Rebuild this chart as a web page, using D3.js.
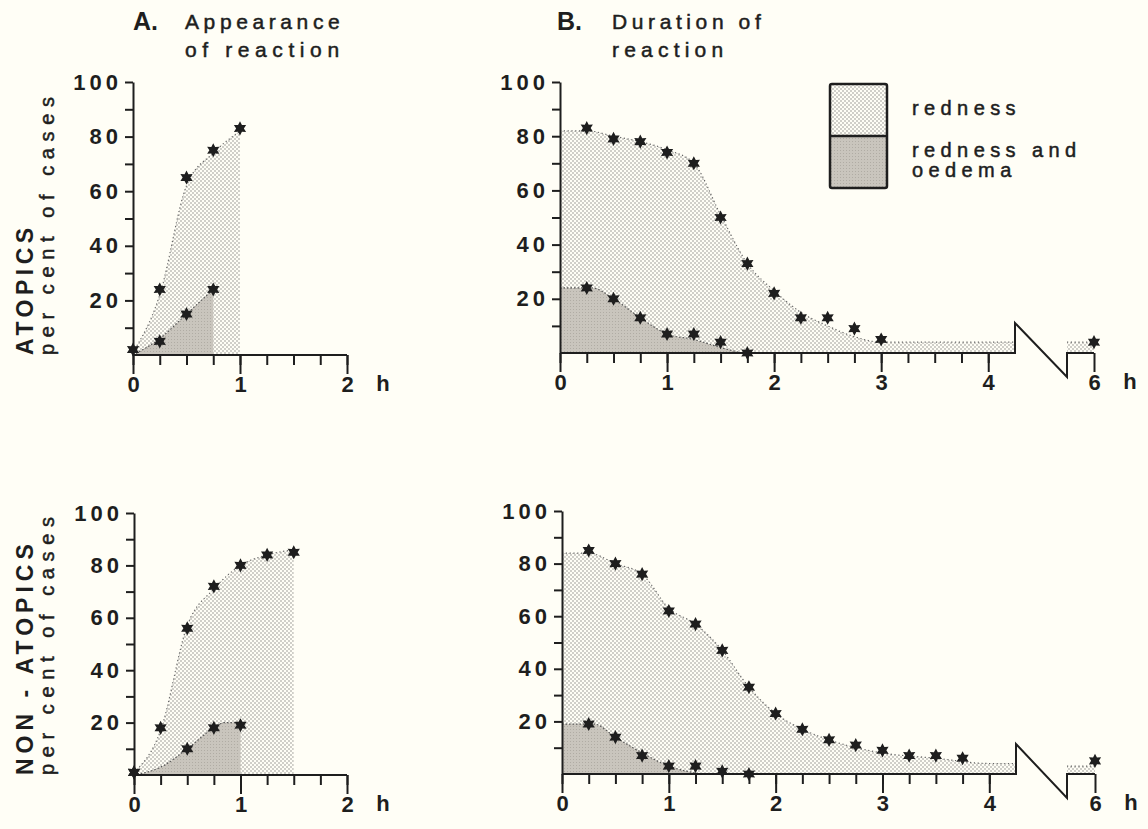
<!DOCTYPE html>
<html>
<head>
<meta charset="utf-8">
<script src="https://cdn.jsdelivr.net/npm/d3@7"></script>
<style>
  body { margin: 0; background: #fffef6; }
  svg { display: block; font-family: "Liberation Sans", Arial, sans-serif; }
</style>
</head>
<body>
<svg id="chart" width="1148" height="829"></svg>
<script>
// ---- values (per cent of cases, time in hours) ----

// A. appearance, atopics
const appAtopTime = [0, 0.25, 0.5, 0.75, 1];
const appAtopRedness = [2, 24, 65, 75, 83];
const appAtopRednessFit = [1, 22, 62, 74, 82];
const appAtopOedemaTime = [0.25, 0.5, 0.75];
const appAtopOedema = [5, 15, 24];
const appAtopOedemaFitTime = [0, 0.25, 0.5, 0.75];
const appAtopOedemaFit = [0, 6, 15, 24];

// A. appearance, non-atopics
const appNonTime = [0, 0.25, 0.5, 0.75, 1, 1.25, 1.5];
const appNonRedness = [1, 18, 56, 72, 80, 84, 85];
const appNonRednessFit = [1, 17, 57, 71, 80, 84, 86];
const appNonOedemaTime = [0, 0.5, 0.75, 1];
const appNonOedema = [1, 10, 18, 19];
const appNonOedemaFitTime = [0, 0.25, 0.5, 0.75, 0.85, 1];
const appNonOedemaFit = [0, 3, 10, 18, 20, 20];

// B. duration, atopics
const durAtopTime = [0.25, 0.5, 0.75, 1, 1.25, 1.5, 1.75, 2, 2.25, 2.5, 2.75, 3, 6];
const durAtopRedness = [83, 79, 78, 74, 70, 50, 33, 22, 13, 13, 9, 5, 4];
const durAtopRednessFitTime = [0, 0.25, 0.5, 0.75, 1, 1.25, 1.5, 1.75, 2, 2.25, 2.5, 2.75, 3, 3.5, 4.25];
const durAtopRednessFit = [82, 82, 80, 78, 75, 70, 51, 33, 23, 15, 10, 6, 4, 4, 4];
const durAtopTailFit = [4, 4];
const durAtopOedemaTime = [0.25, 0.5, 0.75, 1, 1.25, 1.5, 1.75];
const durAtopOedema = [24, 20, 13, 7, 7, 4, 0];
const durAtopOedemaFitTime = [0, 0.3, 0.5, 0.75, 1, 1.25, 1.5, 1.7];
const durAtopOedemaFit = [24, 24, 20, 13, 7, 5, 2, 0];

// B. duration, non-atopics
const durNonTime = [0.25, 0.5, 0.75, 1, 1.25, 1.5, 1.75, 2, 2.25, 2.5, 2.75, 3, 3.25, 3.5, 3.75, 6];
const durNonRedness = [85, 80, 76, 62, 57, 47, 33, 23, 17, 13, 11, 9, 7, 7, 6, 5];
const durNonRednessFitTime = [0, 0.25, 0.5, 0.75, 1, 1.25, 1.5, 1.75, 2, 2.25, 2.5, 2.75, 3, 3.5, 4, 4.25];
const durNonRednessFit = [84, 84, 80, 76, 63, 57, 47, 33, 23, 17, 13, 10, 8, 6, 4, 4];
const durNonTailFit = [3, 3];
const durNonOedemaTime = [0.25, 0.5, 0.75, 1, 1.25, 1.5, 1.75];
const durNonOedema = [19, 14, 7, 3, 3, 1, 0];
const durNonOedemaFitTime = [0, 0.3, 0.5, 0.75, 1, 1.3];
const durNonOedemaFit = [19, 19, 14, 8, 3, 0];

const tailTime = [5.75, 6];
const yTicks = [10, 20, 30, 40, 50, 60, 70, 80, 90, 100];
const appTickLabels = [0, 1, 2];
const durTickLabels = [0, 1, 2, 3, 4, 6];
const legendLabels = [["redness"], ["redness and", "oedema"]];

// ---- drawing ----
const svg = d3.select("#chart");
const ink = "#1e1e1e";

const defs = svg.append("defs");
const dots = defs.append("pattern").attr("id", "dots")
    .attr("width", 4).attr("height", 4).attr("patternUnits", "userSpaceOnUse");
dots.append("rect").attr("width", 4).attr("height", 4).attr("fill", "#fffef6");
dots.append("circle").attr("cx", 1).attr("cy", 1).attr("r", 0.75).attr("fill", "#8a8a86");
dots.append("circle").attr("cx", 3).attr("cy", 3).attr("r", 0.75).attr("fill", "#8a8a86");

const grey = defs.append("pattern").attr("id", "grey")
    .attr("width", 3).attr("height", 3).attr("patternUnits", "userSpaceOnUse");
grey.append("rect").attr("width", 3).attr("height", 3).attr("fill", "#c9c5bd");
grey.append("rect").attr("width", 1).attr("height", 1).attr("fill", "#b0aca4");

// six pointed star marker
const star6 = {
  draw(ctx, size) {
    const r = Math.sqrt(size) * 0.8, ri = r * 0.55;
    for (let i = 0; i < 12; i++) {
      const a = i * Math.PI / 6 - Math.PI / 2, rr = i % 2 ? ri : r;
      if (i === 0) ctx.moveTo(rr * Math.cos(a), rr * Math.sin(a));
      else ctx.lineTo(rr * Math.cos(a), rr * Math.sin(a));
    }
    ctx.closePath();
  }
};

const zip = (t, v) => t.map((d, i) => [d, v[i]]);

const panels = [
  { x: d3.scaleLinear().domain([0, 2]).range([133, 347]),
    y: d3.scaleLinear().domain([0, 100]).range([355, 82]),
    red: zip(appAtopTime, appAtopRednessFit), oed: zip(appAtopOedemaFitTime, appAtopOedemaFit),
    redPts: zip(appAtopTime, appAtopRedness), oedPts: zip(appAtopOedemaTime, appAtopOedema),
    minorMax: 2, labels: appTickLabels },
  { x: d3.scaleLinear().domain([0, 2]).range([134, 347]),
    y: d3.scaleLinear().domain([0, 100]).range([775, 513]),
    red: zip(appNonTime, appNonRednessFit), oed: zip(appNonOedemaFitTime, appNonOedemaFit),
    redPts: zip(appNonTime, appNonRedness), oedPts: zip(appNonOedemaTime, appNonOedema),
    minorMax: 2, labels: appTickLabels },
  { x: d3.scaleLinear().domain([0, 4.25, 5.75, 6]).range([560, 1015, 1067, 1094]),
    y: d3.scaleLinear().domain([0, 100]).range([353, 82]),
    red: zip(durAtopRednessFitTime, durAtopRednessFit), tail: zip(tailTime, durAtopTailFit),
    oed: zip(durAtopOedemaFitTime, durAtopOedemaFit),
    redPts: zip(durAtopTime, durAtopRedness), oedPts: zip(durAtopOedemaTime, durAtopOedema),
    minorMax: 4, labels: durTickLabels, broken: true },
  { x: d3.scaleLinear().domain([0, 4.25, 5.75, 6]).range([562, 1016, 1067, 1095]),
    y: d3.scaleLinear().domain([0, 100]).range([774, 511]),
    red: zip(durNonRednessFitTime, durNonRednessFit), tail: zip(tailTime, durNonTailFit),
    oed: zip(durNonOedemaFitTime, durNonOedemaFit),
    redPts: zip(durNonTime, durNonRedness), oedPts: zip(durNonOedemaTime, durNonOedema),
    minorMax: 4, labels: durTickLabels, broken: true }
];

panels.forEach(p => {
  const { x, y } = p;
  const g = svg.append("g");
  const area = d3.area().x(d => x(d[0])).y0(y(0)).y1(d => y(d[1])).curve(d3.curveMonotoneX);
  const edge = d3.line().x(d => x(d[0])).y(d => y(d[1])).curve(d3.curveMonotoneX);

  // redness (stippled) area, then oedema (grey) on top
  [p.red, p.tail].filter(Boolean).forEach(s => {
    g.append("path").datum(s).attr("d", area).attr("fill", "url(#dots)");
    g.append("path").datum(s).attr("d", edge).attr("fill", "none")
      .attr("stroke", "#666").attr("stroke-width", 1.2).attr("stroke-dasharray", "1.2,2.6");
  });
  g.append("path").datum(p.oed).attr("d", area).attr("fill", "url(#grey)");
  g.append("path").datum(p.oed).attr("d", edge).attr("fill", "none")
    .attr("stroke", "#555").attr("stroke-width", 1.2).attr("stroke-dasharray", "1.5,2");

  // y axis
  g.append("g").attr("transform", `translate(${x(0)},0)`)
    .call(d3.axisLeft(y).tickValues(yTicks).tickSize(8).tickSizeOuter(0).tickPadding(3)
      .tickFormat(d => d % 20 === 0 ? d : ""));

  // x axis: minor quarter-hour ticks, then labelled hour ticks
  const y0 = y(0);
  g.append("g").attr("transform", `translate(0,${y0})`)
    .call(d3.axisBottom(x).tickValues(d3.range(0, p.minorMax + 0.01, 0.25)).tickSize(10).tickFormat(""))
    .call(a => a.select(".domain").remove());
  g.append("g").attr("class", "major").attr("transform", `translate(0,${y0})`)
    .call(d3.axisBottom(x).tickValues(p.labels).tickSize(19).tickPadding(2).tickFormat(d3.format("d")))
    .call(a => a.select(".domain").remove())
    .call(a => a.selectAll("text").attr("dx", 2));

  // baseline (with the scale break on the duration panels)
  if (p.broken) {
    const path = d3.path();
    path.moveTo(x(0), y0);
    path.lineTo(x(4.25), y0);
    path.lineTo(x(4.25), y0 - 30);
    path.lineTo(x(5.75), y0 + 24);
    path.lineTo(x(5.75), y0);
    path.lineTo(x(6), y0);
    g.append("path").attr("d", path.toString()).attr("fill", "none")
      .attr("stroke", ink).attr("stroke-width", 2).attr("stroke-linejoin", "miter");
  } else {
    g.append("line").attr("x1", x(0)).attr("x2", x(2)).attr("y1", y0).attr("y2", y0)
      .attr("stroke", ink).attr("stroke-width", 2);
  }

  g.append("text").attr("x", x(p.labels[p.labels.length - 1]) + 36).attr("y", y0 + 36)
    .attr("text-anchor", "middle").attr("font-size", 22).attr("font-weight", "bold")
    .attr("fill", ink).text("h");

  // stars
  const sym = d3.symbol().type(star6).size(78);
  g.selectAll(".pt").data(p.redPts.concat(p.oedPts)).join("path")
    .attr("transform", d => `translate(${x(d[0])},${y(d[1])})`)
    .attr("d", sym).attr("fill", ink);
});

svg.selectAll(".tick line").attr("stroke", ink).attr("stroke-width", 2);
svg.selectAll(".domain").attr("stroke", ink).attr("stroke-width", 2);
svg.selectAll(".tick text").attr("font-size", 22).attr("font-weight", "bold")
  .attr("fill", ink).attr("letter-spacing", 4)
  .attr("font-family", "'Liberation Sans', Arial, sans-serif");

// titles
const t = svg.append("g").attr("fill", ink);
const thick = sel => sel.attr("stroke", ink).attr("stroke-width", 0.5);
t.append("text").attr("x", 133).attr("y", 30).attr("font-size", 25).attr("font-weight", "bold").text("A.");
t.append("text").attr("x", 185).attr("y", 29).attr("font-size", 21).attr("letter-spacing", 4.6).call(thick).text("Appearance");
t.append("text").attr("x", 185).attr("y", 57).attr("font-size", 21).attr("letter-spacing", 5.6).call(thick).text("of reaction");
t.append("text").attr("x", 557).attr("y", 30).attr("font-size", 25).attr("font-weight", "bold").text("B.");
t.append("text").attr("x", 612).attr("y", 29).attr("font-size", 21).attr("letter-spacing", 4.6).call(thick).text("Duration of");
t.append("text").attr("x", 612).attr("y", 57).attr("font-size", 21).attr("letter-spacing", 5.2).call(thick).text("reaction");

// y titles
[["ATOPICS", 355, 4.5], ["NON - ATOPICS", 775, 5]].forEach(([label, base, ls]) => {
  t.append("text").attr("transform", `translate(33,${base}) rotate(-90)`)
    .attr("font-size", 23).attr("font-weight", "bold").attr("letter-spacing", ls).text(label);
  t.append("text").attr("transform", `translate(54,${base}) rotate(-90)`)
    .attr("font-size", 20).attr("letter-spacing", 6.6).call(thick).text("per cent of cases");
});

// legend
const lg = svg.append("g");
lg.append("rect").attr("x", 830).attr("y", 84).attr("width", 57).attr("height", 52).attr("fill", "url(#dots)");
lg.append("rect").attr("x", 830).attr("y", 136).attr("width", 57).attr("height", 52).attr("fill", "url(#grey)");
lg.append("rect").attr("x", 830).attr("y", 84).attr("width", 57).attr("height", 104).attr("rx", 2)
  .attr("fill", "none").attr("stroke", ink).attr("stroke-width", 2.5);
lg.append("line").attr("x1", 830).attr("x2", 887).attr("y1", 136).attr("y2", 136)
  .attr("stroke", ink).attr("stroke-width", 2.5);
legendLabels.forEach((lines, i) => {
  lines.forEach((s, j) => {
    lg.append("text").attr("x", 912).attr("y", [115, 157][i] + j * 20)
      .attr("font-size", 20).attr("letter-spacing", 5.4).attr("fill", ink).call(thick).text(s);
  });
});
</script>
</body>
</html>
